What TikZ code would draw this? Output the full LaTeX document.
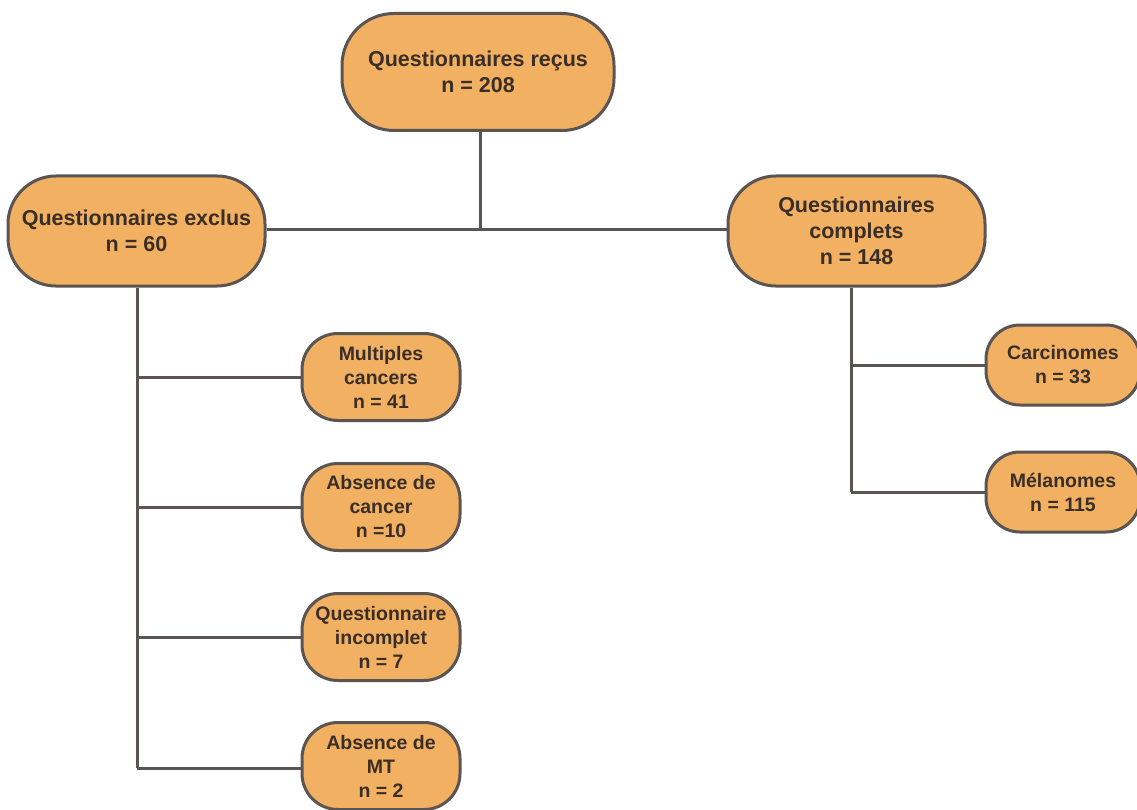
\documentclass[tikz,border=0pt]{standalone}
\usepackage{fontspec}
\setmainfont{Liberation Sans}
\definecolor{boxfill}{HTML}{F2B062}
\definecolor{boxline}{HTML}{5A5552}
\definecolor{txt}{HTML}{3A2E28}
\begin{document}
\begin{tikzpicture}[x=1pt,y=-1pt,
  box/.style={draw=boxline, line width=3pt, fill=boxfill, text=txt, align=center,
    font=\fontsize{19.5}{24}\selectfont\bfseries, inner sep=0pt},
  bigbox/.style={box, font=\fontsize{21.5}{26}\selectfont\bfseries, minimum width=257pt, minimum height=110pt, rounded corners=48pt},
  smallbox/.style={box, minimum width=158pt, minimum height=87pt, rounded corners=36pt},
  rbox/.style={box, minimum width=154pt, minimum height=80pt, rounded corners=34pt},
  link/.style={draw=boxline, line width=3pt}]
\useasboundingbox (0,0) rectangle (1137,810);
\fill[white] (0,0) rectangle (1137,810);

\node[bigbox, minimum width=272pt, minimum height=117pt, rounded corners=52pt] (top) at (478,72) {Questionnaires reçus\\n = 208};
\node[bigbox] (excl) at (136.5,231) {Questionnaires exclus\\n = 60};
\node[bigbox] (comp) at (856.5,231) {Questionnaires\\complets\\n = 148};

\node[smallbox] (mult) at (381,377) {Multiples\\cancers\\n = 41};
\node[smallbox] (absc) at (381,507) {Absence de\\cancer\\n =10};
\node[smallbox] (qinc) at (381,637) {Questionnaire\\incomplet\\n = 7};
\node[smallbox] (amt) at (381,766) {Absence de\\MT\\n = 2};

\node[rbox] (carc) at (1063,365) {Carcinomes\\n = 33};
\node[rbox] (mel) at (1063,492) {Mélanomes\\n = 115};

\coordinate (j1) at (480,230);
\coordinate (ls) at (137,768);
\coordinate (rs) at (851,492);

\draw[link] (top.south -| j1) -- (j1);
\draw[link] (excl.east |- j1) -- (comp.west |- j1);
\draw[link] (excl.south -| ls) -- (ls);
\draw[link] (mult.west) -- (mult.west -| ls);
\draw[link] (absc.west) -- (absc.west -| ls);
\draw[link] (qinc.west) -- (qinc.west -| ls);
\draw[link] (amt.west |- ls) -- (ls);
\draw[link] (comp.south -| rs) -- (rs);
\draw[link] (carc.west) -- (carc.west -| rs);
\draw[link] (mel.west) -- (rs);
\end{tikzpicture}
\end{document}
